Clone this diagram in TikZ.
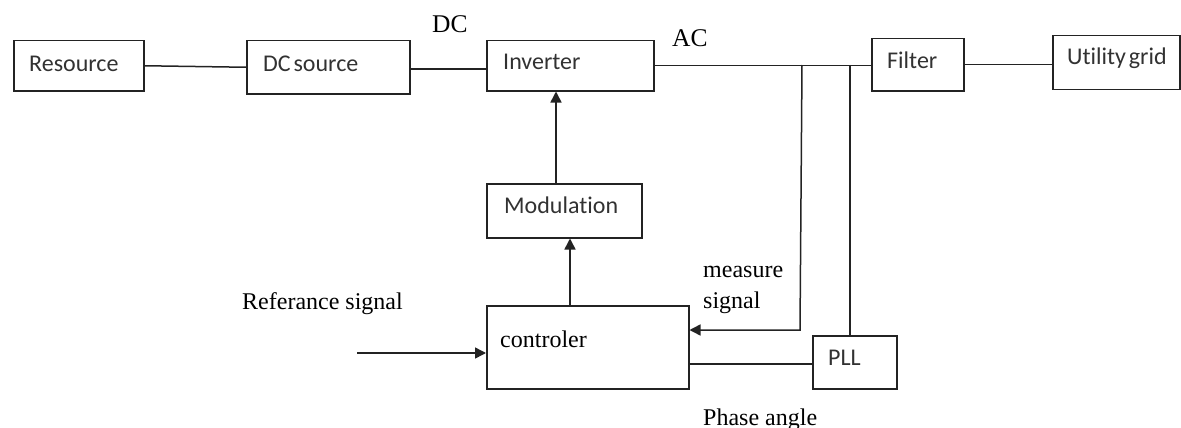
\documentclass[tikz,border=0pt]{standalone}
\usepackage{fontspec}
\setmainfont{Liberation Serif}
\newfontfamily\boxfont[Ligatures={NoCommon}]{Carlito}
\usetikzlibrary{arrows.meta,calc}
\definecolor{ink}{RGB}{35,35,35}
\definecolor{txt}{RGB}{50,50,50}
\begin{document}
\begin{tikzpicture}[x=1pt,y=-1pt,
  blk/.style={draw=ink, line width=1.5pt, rectangle, inner sep=0pt, anchor=north west},
  btxt/.style={anchor=base west, inner sep=0pt, text=txt, font=\boxfont\fontsize{24}{28}\selectfont},
  stxt/.style={anchor=base west, inner sep=0pt, text=black, font=\fontsize{24}{31}\selectfont},
  wire/.style={draw=ink, line width=1.5pt},
  arr/.style={wire, -{Triangle[length=11pt,width=11pt]}}]
\useasboundingbox (0,0) rectangle (1181,428);
% blocks
\node[blk, minimum width=130pt, minimum height=50pt] (res) at (13,40) {};
\node[blk, minimum width=163pt, minimum height=53pt] (dcs) at (246,40) {};
\node[blk, minimum width=167pt, minimum height=50pt] (inv) at (486,40) {};
\node[blk, minimum width=92pt, minimum height=52pt] (filt) at (871,38) {};
\node[blk, minimum width=127pt, minimum height=54pt] (ug) at (1052,35) {};
\node[blk, minimum width=155pt, minimum height=54pt] (mod) at (486,183) {};
\node[blk, minimum width=202pt, minimum height=83pt] (ctrl) at (486,305) {};
\node[blk, minimum width=84pt, minimum height=53pt] (pll) at (812,335) {};
% block texts
\node[btxt] (tres) at (29,71) {Resource};
\node[btxt] (tdcs) at (263,71) {DC\hspace{0.12em}source};
\node[btxt] (tinv) at (503,70) {Inverter};
\node[btxt] (tfilt) at (887,69) {Filter};
\node[btxt] (tug) at (1067,65) {Utility\hspace{0.12em}grid};
\node[btxt] (tmod) at (504,213) {Modulation};
\node[stxt] (tctrl) at (500,347) {controler};
\node[btxt] (tpll) at (828,365) {PLL};
% serif labels
\node[stxt, font=\fontsize{25.5}{30}\selectfont] (ldc) at (432,33) {DC};
\node[stxt, font=\fontsize{25.5}{30}\selectfont] (lac) at (672,47) {AC};
\node[stxt] (lref) at (242,309) {Referance signal};
\node[stxt] (lmeas) at (703,277) {measure};
\node[stxt] (lsig) at (703,308) {signal};
\node[stxt] (lph) at (703,425) {Phase angle};
% helper coordinates
\coordinate (y69) at (0,69);
\coordinate (j1) at (802,65);
\coordinate (j2) at (850,65);
\coordinate (mx) at (556,0);
\coordinate (cx) at (570,0);
\coordinate (rs) at (357,353);
\coordinate (my) at (800,330);
\coordinate (py) at (0,364);
% connectors
\draw[wire] (res.east) -- (dcs.west);
\draw[wire] (dcs.east |- y69) -- (inv.west |- y69);
\draw[wire] (inv.east) -- (inv.east -| filt.west);
\draw[wire] (filt.east) -- (filt.east -| ug.west);
\draw[arr] (mod.north -| mx) -- (inv.south -| mx);
\draw[arr] (ctrl.north -| cx) -- (mod.south -| cx);
\draw[arr] (rs) -- (rs -| ctrl.west);
\draw[arr] (j1) -- (my) -- (my -| ctrl.east);
\draw[wire] (j2) -- (j2 |- pll.north);
\draw[wire] (ctrl.east |- py) -- (pll.west |- py);
\end{tikzpicture}
\end{document}
